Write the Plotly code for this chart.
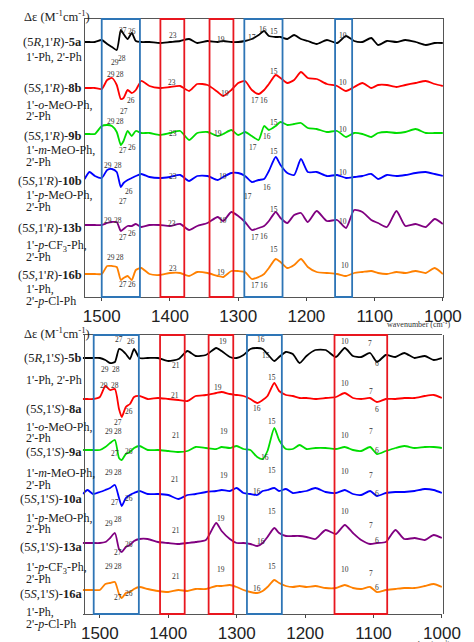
import plotly.graph_objects as go

W, H = 474, 642
wn = [1525,1518,1510,1500,1492,1485,1478,1472,1468,1462,
      1456,1450,1442,1430,1415,1400,1385,1372,1360,1345,
      1330,1322,1310,1300,1290,1280,1270,1262,1255,1245,
      1238,1228,1218,1208,1198,1185,1170,1155,1142,1130,
      1118,1105,1095,1082,1068,1055,1040,1025,1012,1000]

# deflections (arbitrary units, up positive)
s5a = [0,0,0,2,-2,-5,-8,12,8,3, 9,1,0,0,-1,0,1,3,-1,1, 0,1,0,0,1,3,7,11,6,5, 5,3,7,3,1,-2,2,-1,6,1, 0,4,-3,1,0,2,0,-3,-1,-1]
s8b = [0,0,0,-1,8,10,3,-11,-10,-2, -5,-2,7,2,0,1,2,-3,4,3, -4,-8,-2,5,7,-2,-6,-2,4,13, 10,5,8,16,10,9,4,2,-3,1, 5,0,3,3,1,3,5,7,4,2]
s9b = [0,0,0,8,9,8,2,-11,-7,3, -2,3,1,1,-1,1,3,-6,1,2, -2,0,4,-1,2,-2,-6,8,4,8, 12,9,10,11,6,5,2,3,-3,1, 0,-3,1,2,1,2,5,1,1,1]
s10b = [-2,5,1,-1,7,8,5,-10,-6,-3, -1,1,3,0,-1,0,2,-4,1,1, -3,0,4,4,1,-5,-3,-2,6,20, 12,4,2,18,5,5,1,2,-1,0, 1,3,-2,2,1,2,4,5,3,1]
s13b = [0,0,0,0,2,3,3,-6,-4,-1, -1,1,-2,0,0,-1,1,-5,-1,2, 8,4,13,9,3,-5,-3,-1,4,13, 7,2,10,12,3,14,4,5,-3,15, 13,5,2,-2,14,-1,1,-2,6,1]
s16b = [0,0,0,0,8,8,7,-6,-4,-2, -6,4,6,0,-1,1,1,-2,2,1, -2,-3,3,3,2,-5,-3,0,6,15, 12,6,9,15,7,2,1,0,-2,1, 2,3,1,0,2,1,3,1,6,0]
s5b = [0,0,0,0,-2,-5,-4,9,8,4, -1,9,0,0,0,-3,-1,7,2,3, 10,7,1,0,3,9,10,9,4,-3, 1,6,4,-5,2,8,8,1,10,2, 1,5,-4,3,1,5,0,2,-2,0]
s8a = [0,0,0,2,13,9,10,-10,-18,-8, -5,2,3,0,1,0,-1,-2,3,4, 6,7,5,4,3,0,-4,-1,3,16, 8,4,3,1,1,0,1,2,6,1, 0,1,-3,0,0,1,1,3,4,1]
s9a = [0,0,0,0,3,7,10,-8,-10,-4, -2,2,4,0,0,-1,-2,-1,3,2, 1,3,2,4,1,0,-7,-9,-1,22, 10,1,1,5,1,2,2,1,3,0, -1,3,-4,-1,2,4,2,3,3,2]
s10a = [0,4,0,2,4,6,9,-4,-12,-4, -1,1,3,0,0,-1,-5,-1,0,2, 3,4,3,6,1,0,-1,3,4,6, 3,5,1,2,3,6,2,1,4,0, -1,3,-2,1,2,2,3,5,4,1]
s13a = [0,0,0,0,1,5,10,-6,-9,-4, -2,2,4,4,1,0,-1,0,1,3, 20,12,4,0,0,-1,-3,0,6,15, 10,7,7,7,6,4,13,9,18,10, 3,-1,0,1,13,4,5,3,8,5]
s16a = [0,0,0,0,6,7,8,-4,-8,-3, -2,1,3,1,-1,-2,0,-1,1,1, 4,4,5,3,0,-2,-3,-1,3,10, 7,4,3,4,3,4,2,2,5,2, 1,3,-2,0,1,2,2,4,6,3]

colors = ["#000000", "#FF0000", "#00DD00", "#0000FF", "#800080", "#FF8000"]
top_series = [s5a, s8b, s9b, s10b, s13b, s16b]
bot_series = [s5b, s8a, s9a, s10a, s13a, s16a]
top_base = [34, 80, 126, 169, 217, 266]
bot_base = [350, 391, 442, 486, 535, 582]

top_boxes = [(1500, 1444, "#2E75B6"), (1414, 1379, "#E8171F"), (1342, 1307, "#E8171F"),
             (1291, 1235, "#2E75B6"), (1158, 1133, "#2E75B6")]
bot_boxes = [(1509, 1443, "#2E75B6"), (1412, 1376, "#E8171F"), (1341, 1305, "#E8171F"),
             (1285, 1234, "#2E75B6"), (1157, 1080, "#E8171F")]

# (text, y px, is compound name)
labels = [
    ("(5<i>R</i>,1'<i>R</i>)-<b>5a</b>", 34, 1), ("1'-Ph, 2'-Ph", 49, 0),
    ("(5<i>S</i>,1'<i>R</i>)-<b>8b</b>", 80, 1), ("1'-<i>o</i>-MeO-Ph,", 97, 0), ("2'-Ph", 108, 0),
    ("(5<i>S</i>,1'<i>R</i>)-<b>9b</b>", 128, 1), ("1'-<i>m</i>-MeO-Ph,", 142, 0), ("2'-Ph", 154, 0),
    ("(5<i>S</i>,1'<i>R</i>)-<b>10b</b>", 173, 1), ("1'-<i>p</i>-MeO-Ph,", 187, 0), ("2'-Ph", 199, 0),
    ("(5<i>S</i>,1'<i>R</i>)-<b>13b</b>", 220, 1), ("1'-<i>p</i>-CF<sub>3</sub>-Ph,", 238, 0), ("2'-Ph", 249, 0),
    ("(5<i>S</i>,1'<i>R</i>)-<b>16b</b>", 267, 1), ("1'-Ph,", 281, 0), ("2'-<i>p</i>-Cl-Ph", 293, 0),
    ("(5<i>R</i>,1'<i>S</i>)-<b>5b</b>", 350, 1), ("1'-Ph, 2'-Ph", 372, 0),
    ("(5<i>S</i>,1'<i>S</i>)-<b>8a</b>", 401, 1), ("1'-<i>o</i>-MeO-Ph,", 419, 0), ("2'-Ph", 430, 0),
    ("(5<i>S</i>,1'<i>S</i>)-<b>9a</b>", 444, 1), ("1'-<i>m</i>-MeO-Ph,", 465, 0), ("2'-Ph", 477, 0),
    ("(5<i>S</i>,1'<i>S</i>)-<b>10a</b>", 491, 1), ("1'-<i>p</i>-MeO-Ph,", 510, 0), ("2'-Ph", 521, 0),
    ("(5<i>S</i>,1'<i>S</i>)-<b>13a</b>", 539, 1), ("1'-<i>p</i>-CF<sub>3</sub>-Ph,", 560, 0), ("2'-Ph", 571, 0),
    ("(5<i>S</i>,1'<i>S</i>)-<b>16a</b>", 586, 1), ("1'-Ph,", 604, 0), ("2'-<i>p</i>-Cl-Ph", 616, 0),
]

top_peaks = [("27",1469,16),("26",1456,17),("29",1480,48),("28",1470,44),("23",1395,21),("19",1325,25),("17",1280,23),("16",1264,15),("15",1248,17),("10",1147,21),
 ("29",1487,60),("28",1473,60),("23",1397,68),("15",1248,57),("10",1147,68),("19",1320,79),("17",1275,86),("16",1262,86),("27",1468,97),("26",1457,86),
 ("29",1487,107),("28",1473,107),("23",1395,119),("19",1330,119),("15",1248,108),("16",1258,122),("17",1278,133),("10",1147,115),("27",1469,136),("26",1456,133),
 ("29",1491,151),("28",1476,151),("23",1395,162),("19",1322,162),("15",1248,137),("10",1147,158),("17",1285,182),("16",1258,173),("26",1460,177),("27",1469,187),
 ("29",1491,206),("28",1476,206),("23",1397,209),("19",1322,206),("15",1248,195),("10",1147,207),("17",1275,229),("16",1262,228),("27",1469,229),("26",1456,225),
 ("29",1487,249),("28",1473,249),("23",1395,260),("19",1325,264),("15",1248,242),("10",1143,257),("17",1275,278),("16",1262,278),("27",1469,276),("26",1456,276)]
bot_peaks = [("27",1472,332),("26",1455,333),("29",1492,362),("28",1477,362),("21",1388,357),("19",1320,333),("16",1265,331),("15",1257,347),("10",1142,333),("7",1105,336),("6",1095,355),
 ("29",1494,377),("28",1478,377),("21",1390,387),("19",1328,380),("15",1248,369),("10",1142,376),("7",1103,383),("6",1095,401),("16",1270,400),("27",1474,414),("26",1458,403),
 ("29",1486,423),("28",1473,423),("21",1388,434),("19",1318,430),("15",1248,413),("10",1142,427),("7",1103,430),("6",1095,449),("16",1259,456),("27",1478,452),("26",1458,450),
 ("29",1486,471),("28",1473,471),("21",1390,478),("19",1318,474),("15",1248,469),("10",1142,470),("7",1103,474),("6",1095,492),("16",1270,490),("27",1478,501),("26",1458,497),
 ("29",1486,522),("28",1473,518),("21",1388,529),("19",1323,517),("15",1248,510),("10",1142,510),("7",1103,524),("6",1095,539),("16",1265,540),("27",1474,551),("26",1458,543),
 ("29",1486,565),("28",1473,565),("21",1388,575),("19",1323,568),("15",1248,565),("10",1142,568),("7",1103,572),("6",1095,586),("16",1270,587),("27",1474,596),("26",1458,592)]

tick_vals = [1500, 1400, 1300, 1200, 1100, 1000]
serif = "Liberation Serif"

def py(v):
    return 1 - v / H

fig = go.Figure()
for ser, base, c in zip(top_series, top_base, colors):
    fig.add_trace(go.Scatter(x=wn, y=[base - v for v in ser], mode="lines", xaxis="x", yaxis="y",
                             line=dict(color=c, width=1.8, shape="spline", smoothing=0.6), showlegend=False))
for ser, base, c in zip(bot_series, bot_base, colors):
    fig.add_trace(go.Scatter(x=wn, y=[base - v for v in ser], mode="lines", xaxis="x2", yaxis="y2",
                             line=dict(color=c, width=1.8, shape="spline", smoothing=0.6), showlegend=False))

shapes = []
for (a, b, c) in top_boxes:
    shapes.append(dict(type="rect", xref="x", yref="y domain", x0=a, x1=b, y0=0, y1=1, line=dict(color=c, width=1.8)))
for (a, b, c) in bot_boxes:
    shapes.append(dict(type="rect", xref="x2", yref="y2 domain", x0=a, x1=b, y0=0, y1=1, line=dict(color=c, width=1.8)))

ann = []
for t, yv, is_name in labels:
    if is_name:
        ann.append(dict(text=t, x=78/W, xref="paper", y=py(yv), yref="paper", xanchor="right", yanchor="middle",
                        showarrow=False, font=dict(family=serif, size=12.5, color="#222")))
    else:
        ann.append(dict(text=t, x=16/W, xref="paper", y=py(yv), yref="paper", xanchor="left", yanchor="middle",
                        showarrow=False, font=dict(family=serif, size=12, color="#222")))
for t, xv, yv in top_peaks:
    ann.append(dict(text=t, x=xv, xref="x", y=py(yv), yref="paper", showarrow=False,
                    font=dict(family=serif, size=7.5, color="#333")))
for t, xv, yv in bot_peaks:
    ann.append(dict(text=t, x=xv, xref="x2", y=py(yv), yref="paper", showarrow=False,
                    font=dict(family=serif, size=7.5, color="#333")))
for yv in (8, 325):
    ann.append(dict(text="Δε (M<sup>-1</sup>cm<sup>-1</sup>)", x=14/W, xref="paper", y=py(yv), yref="paper",
                    xanchor="left", yanchor="middle", showarrow=False, font=dict(family=serif, size=12.5, color="#222")))
for yv in (316, 636):
    ann.append(dict(text="wavenumber (cm<sup>-1</sup>)", x=462/W, xref="paper", y=py(yv), yref="paper",
                    xanchor="right", yanchor="middle", showarrow=False, font=dict(family=serif, size=8, color="#333")))

axis_common = dict(range=[1525, 1000], tickvals=tick_vals, ticks="outside", ticklen=3, showgrid=False,
                   showline=True, linecolor="#555", linewidth=1.3, mirror=True, zeroline=False,
                   tickfont=dict(family="Liberation Sans", size=17, color="#222"))
fig.update_layout(
    width=W, height=H, margin=dict(l=0, r=0, t=0, b=0), plot_bgcolor="white", paper_bgcolor="white",
    xaxis=dict(domain=[79/W, 453/W], anchor="y", **axis_common),
    xaxis2=dict(domain=[77/W, 452/W], anchor="y2", **axis_common),
    yaxis=dict(domain=[1-289/H, 1-11/H], range=[289, 11], showticklabels=False, ticks="", showgrid=False,
               zeroline=False, showline=True, linecolor="#555", linewidth=1.3, mirror=True),
    yaxis2=dict(domain=[1-606/H, 1-327/H], range=[606, 327], showticklabels=False, ticks="", showgrid=False,
                zeroline=False, showline=True, linecolor="#555", linewidth=1.3, mirror=True),
    shapes=shapes, annotations=ann,
)
fig.write_html("out.html")
